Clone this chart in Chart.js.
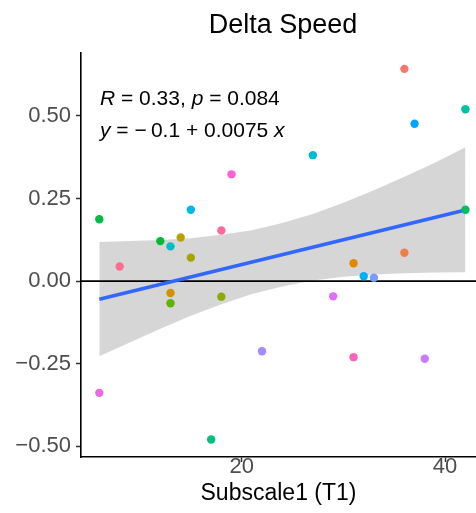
<!DOCTYPE html>
<html>
<head>
<meta charset="utf-8">
<script src="https://cdn.jsdelivr.net/npm/chart.js@4.4.1/dist/chart.umd.min.js"></script>
<style>
  html, body { margin: 0; padding: 0; background: #fff; }
  #wrap { width: 476px; height: 513px; }
</style>
</head>
<body>
<div id="wrap"><canvas id="deltaChart" width="476" height="513"></canvas></div>
<script>
// scatter points (one colour per subject)
const xVals = [36, 36, 31, 13, 14, 15, 18, 13, 12, 6, 42, 17, 42, 13, 27, 15, 32, 37, 33, 22, 38, 29, 6, 19, 31, 18, 8];
const yVals = [0.642, 0.086, 0.054, -0.036, 0.132, 0.071, -0.047, -0.067, 0.121, 0.187, 0.216, -0.479, 0.520, 0.105, 0.381, 0.216, 0.015, 0.476, 0.010, -0.212, -0.235, -0.046, -0.338, 0.323, -0.230, 0.153, 0.044];
const pointColors = ['#F8766D', '#EF7F49', '#E08A00', '#D39200', '#B8A000', '#A3A500', '#8CAB00', '#64B200', '#00B937', '#00BA45', '#00BD63', '#00BF82', '#00C1A2', '#00BFC4', '#00BCD2', '#00B8E3', '#00B0F6', '#00A5FF', '#7B9AFF', '#A58AFF', '#C77CFF', '#DF70F8', '#F066EA', '#FC61D0', '#FF62BC', '#FF6A9C', '#FF6C91'];

// fitted line and its confidence band
const fitX = [6, 42];
const fitY = [-0.055, 0.215];
const bandX = [6, 9, 12, 15, 18, 21, 24, 27, 30, 33, 36, 39, 42];
const bandLow = [-0.227, -0.186, -0.144, -0.105, -0.070, -0.039, -0.016, 0.002, 0.013, 0.020, 0.024, 0.026, 0.027];
const bandHigh = [0.118, 0.121, 0.124, 0.130, 0.140, 0.154, 0.176, 0.203, 0.237, 0.275, 0.316, 0.358, 0.405];

const xTicks = [20, 40];
const yTicks = [-0.5, -0.25, 0, 0.25, 0.5];
const refLineY = 0;

const FONT = "'Liberation Sans', Arial, Helvetica, sans-serif";

const toPts = (xs, ys) => xs.map((x, i) => ({ x: x, y: ys[i] }));

// zero reference line, drawn right after the band
const refLinePlugin = {
    id: 'refLine',
    afterDatasetDraw(chart, args) {
        if (args.index !== 1) return;
        const { ctx, chartArea } = chart;
        const y = chart.scales.y.getPixelForValue(refLineY);
        ctx.save();
        ctx.strokeStyle = '#000';
        ctx.lineWidth = 1.6;
        ctx.beginPath();
        ctx.moveTo(chartArea.left, y);
        ctx.lineTo(chartArea.right, y);
        ctx.stroke();
        ctx.restore();
    }
};

function drawRuns(ctx, x, y, runs) {
    runs.forEach(([txt, italic]) => {
        ctx.font = (italic ? 'italic ' : '') + '21px ' + FONT;
        ctx.fillText(txt, x, y);
        x += ctx.measureText(txt).width;
    });
}

// title (centred over the panel, as ggplot does) and the stats label
const textPlugin = {
    id: 'statsLabel',
    afterDatasetsDraw(chart) {
        const { ctx, chartArea } = chart;
        ctx.save();
        ctx.fillStyle = '#000';
        ctx.font = '27px ' + FONT;
        ctx.textAlign = 'center';
        ctx.textBaseline = 'middle';
        ctx.fillText('Delta Speed', 283, 25.5);

        ctx.textBaseline = 'alphabetic';
        ctx.textAlign = 'left';
        const left = chartArea.left + 19;
        drawRuns(ctx, left, chartArea.top + 52, [['R', true], [' = 0.33, ', false], ['p', true], [' = 0.084', false]]);
        drawRuns(ctx, left, chartArea.top + 84, [['y', true], [' = \u2212\u20090.1 + 0.0075 ', false], ['x', true]]);
        ctx.restore();
    }
};

new Chart(document.getElementById('deltaChart'), {
    type: 'scatter',
    data: {
        datasets: [
            {
                type: 'line',
                data: toPts(bandX, bandLow),
                borderWidth: 0,
                pointRadius: 0,
                fill: false,
                order: 4
            },
            {
                type: 'line',
                data: toPts(bandX, bandHigh),
                borderWidth: 0,
                pointRadius: 0,
                backgroundColor: 'rgba(153,153,153,0.4)',
                fill: '-1',
                order: 3
            },
            {
                type: 'line',
                data: toPts(fitX, fitY),
                borderColor: '#3366FF',
                borderWidth: 3.5,
                pointRadius: 0,
                fill: false,
                order: 2
            },
            {
                data: toPts(xVals, yVals),
                pointBackgroundColor: pointColors,
                pointBorderWidth: 0,
                pointRadius: 4.2,
                order: 1
            }
        ]
    },
    options: {
        responsive: false,
        animation: false,
        events: [],
        layout: { autoPadding: false, padding: { top: 53, left: 0, right: 0, bottom: 0 } },
        plugins: {
            legend: { display: false },
            tooltip: { enabled: false },
            title: { display: false }
        },
        scales: {
            x: {
                type: 'linear',
                min: 4.2,
                max: 43.04,
                afterBuildTicks: (s) => { s.ticks = xTicks.map(v => ({ value: v })); },
                afterFit: (s) => { s.height = 56; s.paddingLeft = 0; s.paddingRight = 0; },
                ticks: {
                    color: '#4D4D4D',
                    font: { family: FONT, size: 22 },
                    padding: -8,
                    callback: (v) => String(v)
                },
                grid: { drawOnChartArea: false, drawTicks: true, tickLength: 5, tickWidth: 1.5, tickColor: '#333' },
                border: { display: true, color: '#000', width: 1.6 },
                title: {
                    display: true,
                    text: 'Subscale1 (T1)',
                    color: '#000',
                    font: { family: FONT, size: 23, lineHeight: 1.2 },
                    padding: { top: 0, bottom: 6 }
                }
            },
            y: {
                type: 'linear',
                min: -0.532,
                max: 0.690,
                afterBuildTicks: (s) => { s.ticks = yTicks.map(v => ({ value: v })); },
                afterFit: (s) => { s.width = 81; s.paddingTop = 0; s.paddingBottom = 0; },
                ticks: {
                    color: '#4D4D4D',
                    font: { family: FONT, size: 22 },
                    padding: 5,
                    callback: (v) => v.toFixed(2).replace('-', '\u2212')
                },
                grid: { drawOnChartArea: false, drawTicks: true, tickLength: 5, tickWidth: 1.5, tickColor: '#333' },
                border: { display: true, color: '#000', width: 1.6 }
            }
        }
    },
    plugins: [refLinePlugin, textPlugin]
});
</script>
</body>
</html>
